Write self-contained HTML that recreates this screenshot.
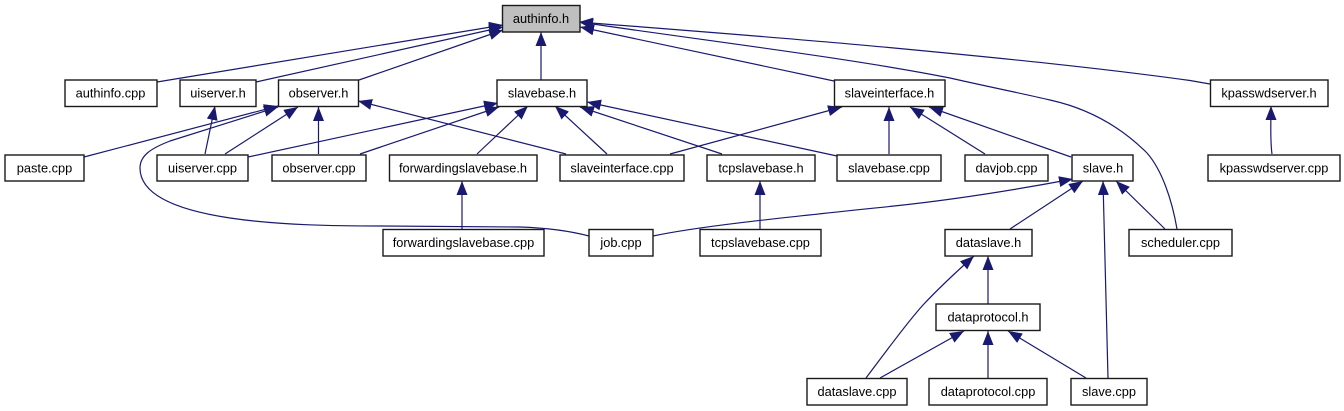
<!DOCTYPE html>
<html><head><meta charset="utf-8"><title>authinfo.h include graph</title>
<style>
html,body{margin:0;padding:0;background:#fff;width:1344px;height:411px;overflow:hidden}
svg{display:block}
text{font-family:"Liberation Sans",Arial,sans-serif;font-size:12.8px;fill:#000;text-anchor:middle}
.e path{fill:none;stroke:#191970;stroke-width:1.2;marker-end:url(#a)}
.n rect{fill:#fff;stroke:#1a1a1a;stroke-width:1.4}
</style></head><body>
<svg width="1344" height="411" viewBox="0 0 1344 411" xmlns="http://www.w3.org/2000/svg">
<defs><marker id="a" markerUnits="userSpaceOnUse" markerWidth="16" markerHeight="12" refX="14" refY="5.5" orient="auto"><path d="M0,0 L14,5.5 L0,11 Z" fill="#191970"/></marker></defs>
<g class="e">
<path d="M157,82 L503,25"/>
<path d="M256,82 L503,27"/>
<path d="M359,80 L503,30"/>
<path d="M541,80 L541,32"/>
<path d="M834,81 L580,27"/>
<path d="M1177,229 C1172,200 1162,170 1147,153 C1125,131 1095,110 1050,100 C1020,93 985,86 950,78 C850,58 700,40 579,22"/>
<path d="M1210,84 L1190,80.500 C1100,68 1000,58 894,48 C800,39 680,30 579,22"/>
<path d="M205,154 L215,106"/>
<path d="M84,157 L278,106"/>
<path d="M589,236 C570,231 550,228 520,227 L380,226 C300,226 140,224 140,168 C140,155 152,148 170,141 L278,107"/>
<path d="M225,154 L298,107"/>
<path d="M318.500,154 L318.500,107"/>
<path d="M566,154 L358,101"/>
<path d="M248,157 L498,103"/>
<path d="M360,154 L499,107"/>
<path d="M477,154 L528,106"/>
<path d="M607,154 L555,106"/>
<path d="M722,154 L580,107"/>
<path d="M837,156 L587,102"/>
<path d="M670,154 L842,107"/>
<path d="M889,154 L889,107"/>
<path d="M985,154 L910,107"/>
<path d="M1071,157 L929,107"/>
<path d="M462,229 L462,181"/>
<path d="M760,229 L760,181"/>
<path d="M653,236 C700,226 780,218 894,206 C960,199 1020,189 1073,179"/>
<path d="M1010,229 L1083,181"/>
<path d="M1108,378 L1103,181"/>
<path d="M1165,229 L1116,181"/>
<path d="M1272,154 C1270,140 1271,125 1271,106"/>
<path d="M866,378 C885,353 905,325 923,305 C938,289 955,273 974,256"/>
<path d="M988,304 L988,256"/>
<path d="M880,378 L964,331"/>
<path d="M988,378 L988,331"/>
<path d="M1086,378 L1008,331"/>
</g>
<g class="n">
<rect x="502.500" y="5.500" width="77.500" height="26.500" style="fill:#bfbfbf"/><text x="541" y="23">authinfo.h</text>
<rect x="65" y="80" width="92" height="26.500"/><text x="110.500" y="97.500">authinfo.cpp</text>
<rect x="180" y="80" width="76" height="26.500"/><text x="218" y="97.500">uiserver.h</text>
<rect x="278.500" y="80" width="80" height="26.500"/><text x="318.500" y="97.500">observer.h</text>
<rect x="497" y="80" width="90" height="26.500"/><text x="542" y="97.500">slavebase.h</text>
<rect x="834.500" y="80" width="110.500" height="26.500"/><text x="889.500" y="97.500">slaveinterface.h</text>
<rect x="1210.500" y="80" width="117.500" height="26.500"/><text x="1269" y="97.500">kpasswdserver.h</text>
<rect x="5" y="155" width="79" height="26"/><text x="44.500" y="172.500">paste.cpp</text>
<rect x="157" y="155" width="91" height="26"/><text x="202.500" y="172.500">uiserver.cpp</text>
<rect x="272" y="155" width="94" height="26"/><text x="319" y="172.500">observer.cpp</text>
<rect x="389.500" y="155" width="147.500" height="26"/><text x="463" y="172.500">forwardingslavebase.h</text>
<rect x="560" y="155" width="124" height="26"/><text x="622" y="172.500">slaveinterface.cpp</text>
<rect x="707" y="155" width="108" height="26"/><text x="761" y="172.500">tcpslavebase.h</text>
<rect x="837" y="155" width="104" height="26"/><text x="889" y="172.500">slavebase.cpp</text>
<rect x="965" y="155" width="83" height="26"/><text x="1006.500" y="172.500">davjob.cpp</text>
<rect x="1072" y="155" width="61" height="26"/><text x="1103" y="172.500">slave.h</text>
<rect x="1208" y="155" width="132" height="26"/><text x="1274" y="172.500">kpasswdserver.cpp</text>
<rect x="383" y="229.500" width="161" height="26.500"/><text x="463.500" y="247">forwardingslavebase.cpp</text>
<rect x="589" y="229.500" width="64" height="26.500"/><text x="621" y="247">job.cpp</text>
<rect x="700" y="229.500" width="121" height="26.500"/><text x="760.500" y="247">tcpslavebase.cpp</text>
<rect x="945" y="229.500" width="87" height="26.500"/><text x="988.500" y="247">dataslave.h</text>
<rect x="1129" y="229.500" width="103" height="26.500"/><text x="1180.500" y="247">scheduler.cpp</text>
<rect x="936" y="304" width="104" height="26.500"/><text x="988" y="321.500">dataprotocol.h</text>
<rect x="807" y="378.500" width="100" height="26.500"/><text x="857" y="396">dataslave.cpp</text>
<rect x="929" y="378.500" width="118" height="26.500"/><text x="988" y="396">dataprotocol.cpp</text>
<rect x="1071" y="378.500" width="76" height="26.500"/><text x="1109" y="396">slave.cpp</text>
</g>
</svg>
</body></html>
